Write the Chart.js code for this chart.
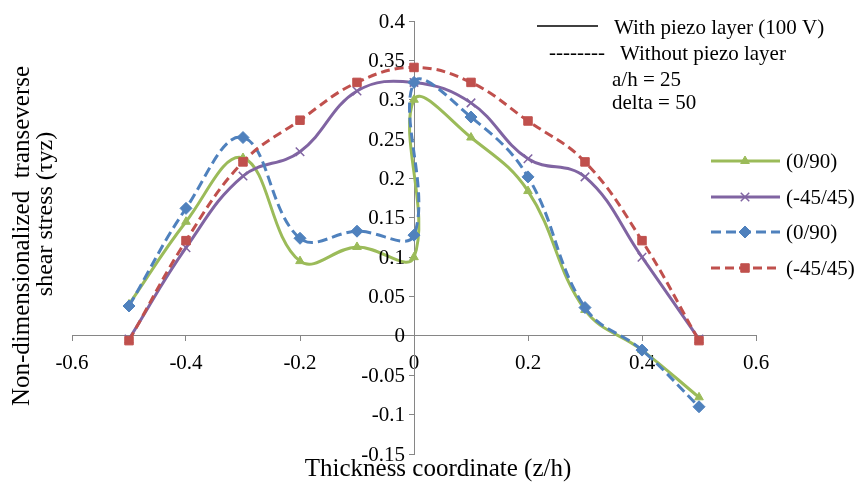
<!DOCTYPE html>
<html>
<head>
<meta charset="utf-8">
<script src="https://cdn.jsdelivr.net/npm/chart.js@4.4.0/dist/chart.umd.min.js"></script>
<style>
  html, body { margin: 0; padding: 0; background: #fff; }
  #wrap { width: 857px; height: 493px; }
</style>
</head>
<body>
<div id="wrap"><canvas id="myChart" width="857" height="493"></canvas></div>
<script>
// thickness coordinates; the 0/90 laminates jump at the mid-plane so z = 0 shows up twice
var z_jump = [-0.5, -0.4, -0.3, -0.2, -0.1, 0, 0, 0.1, 0.2, 0.3, 0.4, 0.5];
var z_plain = [-0.5, -0.4, -0.3, -0.2, -0.1, 0, 0.1, 0.2, 0.3, 0.4, 0.5];

var piezo_0_90 = [0.04, 0.145, 0.226, 0.095, 0.113, 0.1, 0.3, 0.252, 0.184, 0.033, -0.018, -0.078];
var piezo_45 = [-0.004, 0.112, 0.203, 0.234, 0.311, 0.322, 0.296, 0.225, 0.202, 0.1, -0.004];
var nopiezo_0_90 = [0.038, 0.162, 0.252, 0.124, 0.133, 0.128, 0.322, 0.278, 0.202, 0.036, -0.018, -0.09];
var nopiezo_45 = [-0.006, 0.121, 0.221, 0.274, 0.322, 0.341, 0.322, 0.273, 0.221, 0.121, -0.006];

var series_labels = ['(0/90)', '(-45/45)', '(0/90)', '(-45/45)'];
var notes = ['a/h = 25', 'delta = 50'];

var FONT = '"Liberation Serif", "Times New Roman", serif';
var GREEN = '#9BBB59', PURPLE = '#8064A2', BLUE = '#4F81BD', RED = '#C0504D';

function pairUp(xs, ys) {
  var pts = [];
  for (var i = 0; i < xs.length; i++) {
    pts.push({x: xs[i], y: ys[i]});
  }
  return pts;
}

function fmt(v) {
  return String(Number(v.toFixed(2)));
}

const chart_data = {
  datasets: [{
    label: series_labels[0],
    data: pairUp(z_jump, piezo_0_90),
    borderColor: GREEN, backgroundColor: GREEN,
    borderWidth: 3,
    pointStyle: 'triangle', pointRadius: 5, pointBorderWidth: 1,
    order: 3
  }, {
    label: series_labels[1],
    data: pairUp(z_plain, piezo_45),
    borderColor: PURPLE, backgroundColor: PURPLE,
    borderWidth: 3,
    pointStyle: 'crossRot', pointRadius: 6, pointBorderWidth: 1.5,
    order: 2
  }, {
    label: series_labels[2],
    data: pairUp(z_jump, nopiezo_0_90),
    borderColor: BLUE, backgroundColor: BLUE,
    borderWidth: 3, borderDash: [10, 5],
    pointStyle: 'rectRot', pointRadius: 6, pointBorderWidth: 1,
    order: 1
  }, {
    label: series_labels[3],
    data: pairUp(z_plain, nopiezo_45),
    borderColor: RED, backgroundColor: RED,
    borderWidth: 3, borderDash: [9, 5],
    pointStyle: 'rect', pointRadius: 6, pointBorderWidth: 1,
    order: 0
  }]
};

// legend, notes, y tick labels and axis titles are painted by hand
// so they sit where the axes cross instead of at the chart edge
const decorations = {
  id: 'decorations',
  afterDraw: function (chart) {
    var ctx = chart.ctx;
    ctx.save();
    ctx.fillStyle = '#000';
    ctx.textBaseline = 'middle';
    ctx.textAlign = 'right';
    ctx.font = '21px ' + FONT;

    // y tick labels, left of the y axis at z = 0
    var ys = chart.scales.y;
    var axisX = chart.scales.x.getPixelForValue(0);
    ys.ticks.forEach(function (t) {
      ctx.fillText(fmt(t.value), axisX - 9, ys.getPixelForValue(t.value) + 1);
    });

    // line-style key
    ctx.textAlign = 'left';
    ctx.strokeStyle = '#000';
    ctx.lineWidth = 1.5;
    ctx.beginPath();
    ctx.moveTo(537, 26);
    ctx.lineTo(598, 26);
    ctx.stroke();
    ctx.fillText('With piezo layer (100 V)', 614, 28);
    ctx.fillText('--------', 549, 53);
    ctx.fillText('Without piezo layer', 620, 54);
    ctx.fillText(notes[0], 612, 80);
    ctx.fillText(notes[1], 612, 103);

    // series legend
    var rows = [161, 197, 232, 268];
    var sets = chart.data.datasets;
    for (var i = 0; i < sets.length; i++) {
      var ds = sets[i];
      var y = rows[i];
      ctx.save();
      ctx.strokeStyle = ds.borderColor;
      ctx.fillStyle = ds.borderColor;
      ctx.lineWidth = 3;
      ctx.setLineDash(ds.borderDash || []);
      ctx.beginPath();
      ctx.moveTo(711, y);
      ctx.lineTo(780, y);
      ctx.stroke();
      ctx.setLineDash([]);
      ctx.lineWidth = ds.pointBorderWidth;
      Chart.helpers.drawPoint(ctx, {
        pointStyle: ds.pointStyle,
        radius: ds.pointRadius,
        borderWidth: ds.pointBorderWidth,
        rotation: 0
      }, 745, y);
      ctx.restore();
      ctx.fillText(ds.label, 786, y + 1);
    }

    // axis titles
    ctx.font = '25px ' + FONT;
    ctx.textAlign = 'center';
    ctx.fillText('Thickness coordinate (z/h)', 438, 469);
    ctx.translate(22, 236);
    ctx.rotate(-Math.PI / 2);
    ctx.fillText('Non-dimensionalized  transeverse', 0, 0);
    ctx.font = '24px ' + FONT;
    ctx.fillText('shear stress (\u03C4yz)', 22, 24);
    ctx.restore();
  }
};

const config = {
  type: 'scatter',
  data: chart_data,
  options: {
    responsive: false,
    animation: false,
    showLine: true,
    elements: {
      line: { tension: 0.4, fill: false }
    },
    layout: {
      padding: { left: 72, top: 21, right: 101, bottom: 39 }
    },
    plugins: {
      legend: { display: false },
      tooltip: { enabled: false }
    },
    scales: {
      x: {
        type: 'linear',
        position: { y: 0 },
        min: -0.6, max: 0.6,
        ticks: {
          stepSize: 0.2,
          color: '#000',
          padding: 10,
          maxRotation: 0,
          font: { family: FONT, size: 21 },
          callback: function (v) { return fmt(v); }
        },
        grid: { drawOnChartArea: false, color: '#868686', tickLength: 5 },
        border: { color: '#868686', width: 1 }
      },
      y: {
        type: 'linear',
        position: { x: 0 },
        min: -0.15, max: 0.4,
        ticks: {
          display: false,
          stepSize: 0.05
        },
        grid: { drawOnChartArea: false, color: '#868686', tickLength: 5 },
        border: { color: '#868686', width: 1 }
      }
    }
  },
  plugins: [decorations]
};

const myChart = new Chart(document.getElementById('myChart'), config);
</script>
</body>
</html>
